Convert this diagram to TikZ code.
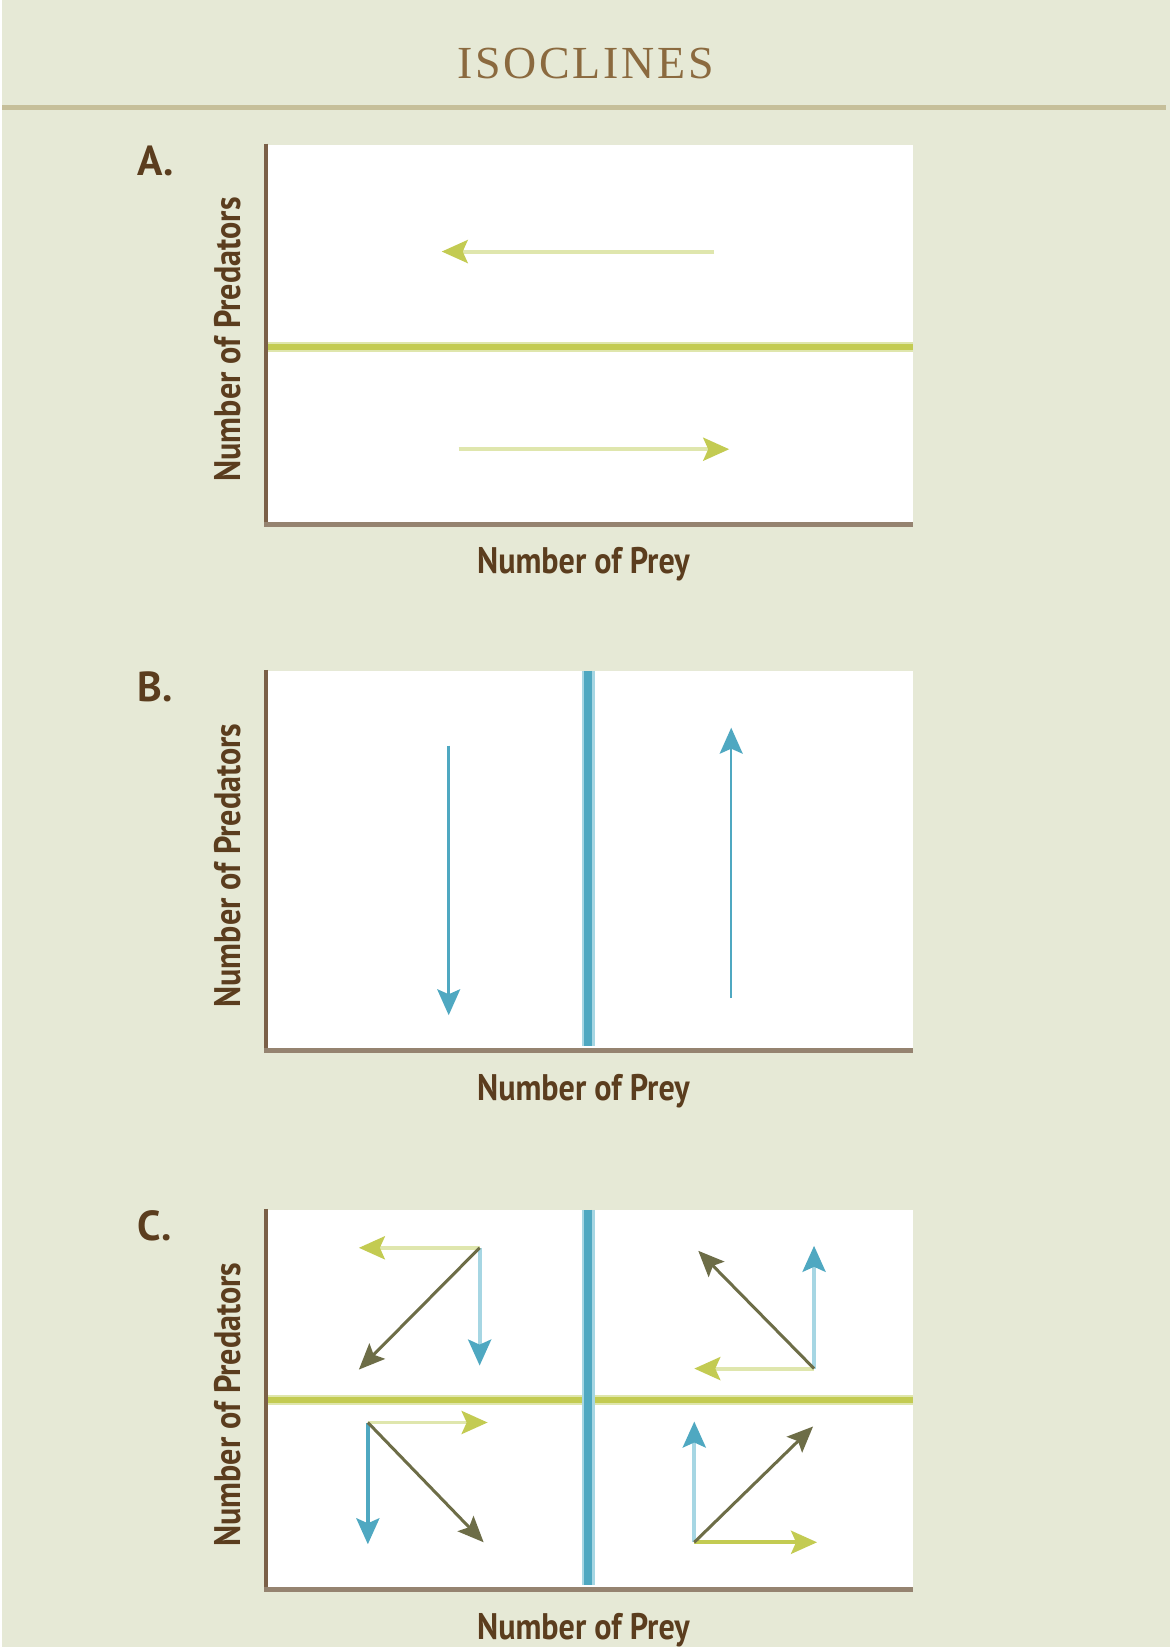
\documentclass[tikz,border=0pt]{standalone}
\usepackage{fontspec}
\usetikzlibrary{arrows.meta}
\newfontfamily\titlefont[LetterSpace=6]{Liberation Serif}
\newfontfamily\axisfont[FakeStretch=0.87]{PT Sans}
\newfontfamily\letterfont{PT Sans}
\definecolor{paper}{HTML}{E6E9D6}
\definecolor{rulebrown}{HTML}{C6BF9A}
\definecolor{titlebrown}{HTML}{8B6A3F}
\definecolor{inkbrown}{HTML}{5B3D1E}
\definecolor{axisbrown}{HTML}{7B6048}
\definecolor{axisgrey}{HTML}{958370}
\definecolor{preygreen}{HTML}{C3CB52}
\definecolor{palegreen}{HTML}{DFE6AD}
\definecolor{predblue}{HTML}{4FA8C1}
\definecolor{paleblue}{HTML}{A6D6E3}
\definecolor{olive}{HTML}{6D6D47}
\begin{document}
\begin{tikzpicture}
		[x=1pt,y=-1pt,
		axis label/.style={font=\axisfont\bfseries\fontsize{37}{37}\selectfont,
			text=inkbrown,anchor=base},
		panel letter/.style={font=\letterfont\bfseries\fontsize{42}{42}\selectfont,
			text=inkbrown,anchor=base west},
		preyiso/.style={draw=palegreen,line width=2pt,
			double=preygreen,double distance=6pt},
		prediso/.style={draw=paleblue,line width=2.5pt,
			double=predblue,double distance=8pt},
		greenvec/.style={draw=palegreen,line width=4pt,
			-{Stealth[length=26pt,width=23pt,inset=5pt,color=preygreen]}},
		bluevec/.style={draw=paleblue,line width=4pt,
			-{Stealth[length=26pt,width=23pt,inset=5pt,color=predblue]}},
		bothvec/.style={draw=olive,line width=3pt,
			-{Stealth[length=26pt,width=22pt,inset=5pt]}}]
		\fill[paper] (0,0) rectangle (1170,1650);
		\node[font=\titlefont\fontsize{46}{46}\selectfont,text=titlebrown,anchor=base]
			(title) at (584,79) {ISOCLINES};
		\draw[rulebrown,line width=5pt] (0,108) -- (1166,108);
		% the three panels
		\foreach \top/\name in {145/A,672/B,1212/C} {
			\fill[white] (266,\top) rectangle (912,\top+380);
			\draw[axisbrown,line width=3.5pt] (264,\top-1) -- (264,\top+382);
			\draw[axisgrey,line width=5pt] (262,\top+380) -- (912,\top+380);
			\node[panel letter] (letter\name) at (132,\top+31) {\name.};
			\node[axis label] (prey\name) at (582,\top+430) {Number of Prey};
			\node[axis label,rotate=90] (pred\name) at (238,\top+195) {Number of Predators};
		}
		% A
		\draw[preyiso] (266,348) -- (912,348);
		\coordinate (a1) at (713,252);
		\coordinate (a1t) at (440,252);
		\coordinate (a2) at (457,450);
		\coordinate (a2t) at (728,450);
		\draw[greenvec] (a1) -- (a1t);
		\draw[greenvec] (a2) -- (a2t);
		% B
		\draw[prediso] (587,672) -- (587,1048);
		\coordinate (b1) at (447,747);
		\coordinate (b1t) at (447,1017);
		\coordinate (b2) at (730,1000);
		\coordinate (b2t) at (730,729);
		\draw[bluevec,draw=predblue,line width=2.5pt] (b1) -- (b1t);
		\draw[bluevec,draw=predblue,line width=2.5pt] (b2) -- (b2t);
		% C
		\draw[preyiso] (266,1402) -- (912,1402);
		\draw[prediso] (587,1212) -- (587,1588);
		\coordinate (tl) at (478,1250);
		\coordinate (tl-x) at (357,1250);
		\coordinate (tl-y) at (478,1368);
		\coordinate (tl-d) at (357,1372);
		\coordinate (tr) at (813,1371);
		\coordinate (tr-x) at (693,1371);
		\coordinate (tr-y) at (813,1248);
		\coordinate (tr-d) at (697,1253);
		\coordinate (bl) at (366,1425);
		\coordinate (bl-x) at (486,1425);
		\coordinate (bl-y) at (366,1547);
		\coordinate (bl-d) at (482,1545);
		\coordinate (br) at (693,1545);
		\coordinate (br-x) at (816,1545);
		\coordinate (br-y) at (693,1424);
		\coordinate (br-d) at (812,1429);
		\draw[greenvec] (tl) -- (tl-x);
		\draw[bluevec] (tl) -- (tl-y);
		\draw[greenvec] (tr) -- (tr-x);
		\draw[bluevec] (tr) -- (tr-y);
		\draw[greenvec] (bl) -- (bl-x);
		\draw[bluevec,draw=predblue] (bl) -- (bl-y);
		\draw[greenvec,draw=preygreen] (br) -- (br-x);
		\draw[bluevec] (br) -- (br-y);
		\draw[bothvec] (tl) -- (tl-d);
		\draw[bothvec] (tr) -- (tr-d);
		\draw[bothvec] (bl) -- (bl-d);
		\draw[bothvec] (br) -- (br-d);
	\end{tikzpicture}
\end{document}
